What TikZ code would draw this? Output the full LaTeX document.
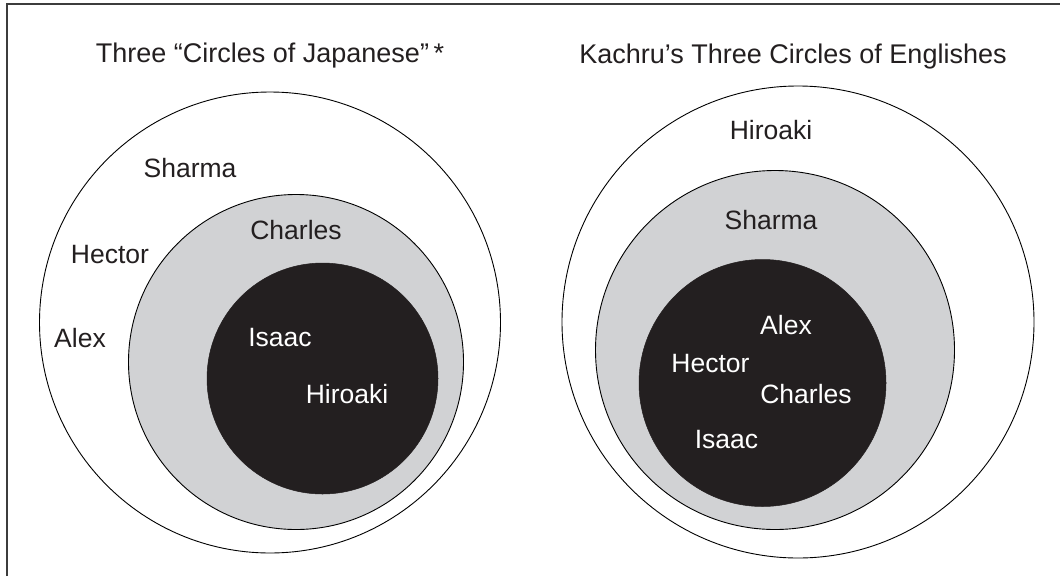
\documentclass[tikz,border=0pt]{standalone}
\usepackage{fontspec}
\setmainfont{Liberation Sans}
\definecolor{ringgray}{RGB}{209,210,212}
\definecolor{coreblack}{RGB}{35,31,32}
\definecolor{framegray}{RGB}{60,60,60}
\begin{document}
\begin{tikzpicture}[x=1pt,y=-1pt,
  outerring/.style={circle,draw=black,line width=0.9pt,fill=white,inner sep=0pt,outer sep=0pt},
  midring/.style={circle,draw=black,line width=0.9pt,fill=ringgray,inner sep=0pt,outer sep=0pt},
  corering/.style={circle,draw=coreblack,line width=0.5pt,fill=coreblack,inner sep=0pt,outer sep=0pt},
  lbl/.style={anchor=base,inner sep=0pt,font=\fontsize{26.5}{30}\selectfont,text=coreblack},
  wlbl/.style={lbl,text=white},
  ttl/.style={anchor=base,inner sep=0pt,font=\fontsize{27}{31}\selectfont,text=coreblack}]
\useasboundingbox (0,0) rectangle (1060,576);
\fill[white] (0,0) rectangle (1060,576);
% frame (top and left sides visible)
\coordinate (fbl) at (7,576);
\coordinate (ftl) at (7,4);
\coordinate (ftr) at (1060,4);
\draw[framegray,line width=2pt] (fbl) -- (ftl) -- (ftr);
% titles
\node[ttl] (t1) at (270,62) {Three “Circles of Japanese”\,*};
\node[ttl] (t2) at (793,63) {Kachru’s Three Circles of Englishes};
% left circles
\node[outerring,minimum size=461pt] (lo) at (270,322.5) {};
\node[midring,minimum size=335pt] (lm) at (296,362) {};
\node[corering,minimum size=231pt] (lc) at (322.5,378.5) {};
% right circles
\node[outerring,minimum size=472pt] (ro) at (798,322) {};
\node[midring,minimum size=359pt] (rm) at (775,350) {};
\node[corering,minimum size=247pt] (rc) at (762.5,383) {};
% left labels
\node[lbl] (lsharma) at (190,177) {Sharma};
\node[lbl] (lcharles) at (296,239) {Charles};
\node[lbl] (lhector) at (110,263) {Hector};
\node[lbl] (lalex) at (80,347) {Alex};
\node[wlbl] (lisaac) at (280,346) {Isaac};
\node[wlbl] (lhiroaki) at (347,403) {Hiroaki};
% right labels
\node[lbl] (rhiroaki) at (771,139) {Hiroaki};
\node[lbl] (rsharma) at (771,229) {Sharma};
\node[wlbl] (ralex) at (786,334) {Alex};
\node[wlbl] (rhector) at (710.5,372) {Hector};
\node[wlbl] (rcharles) at (806,403) {Charles};
\node[wlbl] (risaac) at (726.5,448) {Isaac};
\end{tikzpicture}
\end{document}
